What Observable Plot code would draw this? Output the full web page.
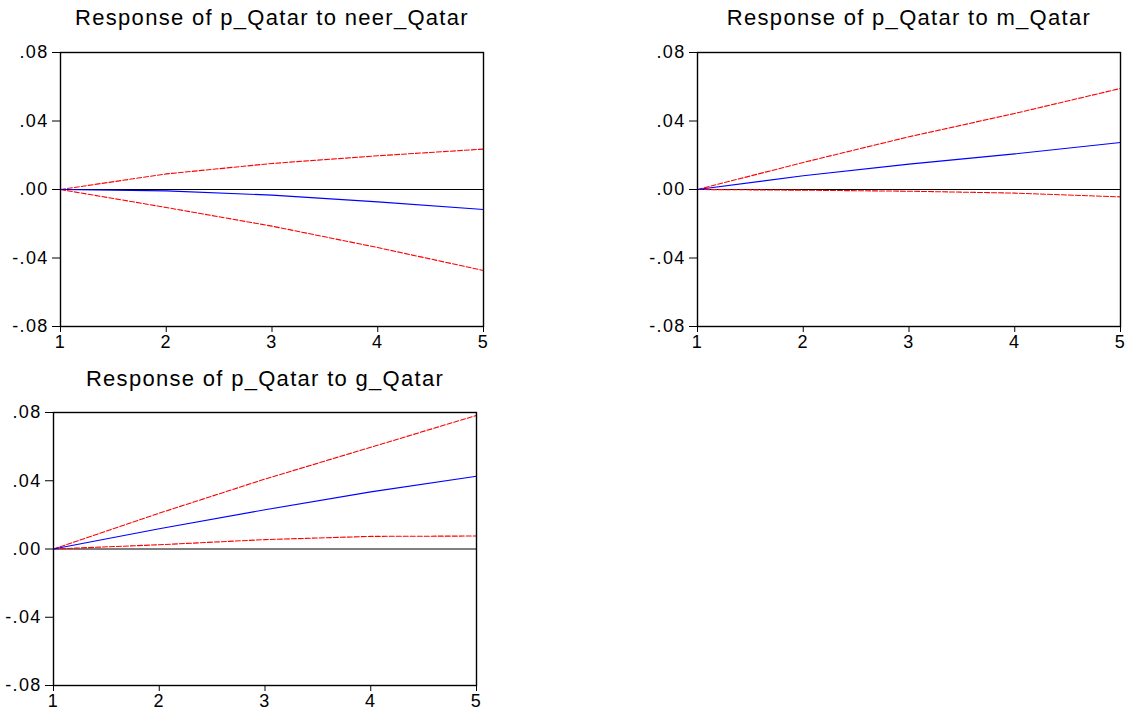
<!DOCTYPE html>
<html><head><meta charset="utf-8">
<script src="https://cdn.jsdelivr.net/npm/d3@7"></script>
<script src="https://cdn.jsdelivr.net/npm/@observablehq/plot@0.6"></script>
<style>
body{margin:0;background:#fff;}
#root{position:relative;width:1134px;height:712px;overflow:hidden;font-family:"Liberation Sans",Arial,sans-serif;}
.panel{position:absolute;}
.panel svg text{letter-spacing:1.3px;}
.title{position:absolute;font-size:22px;letter-spacing:1.3px;white-space:nowrap;transform:translate(-50%,-50%);color:#000;line-height:1;}
</style></head><body><div id="root"></div>
<script>
// Horizons (periods)
const horizons = [1, 2, 3, 4, 5];
const xTickLabels = ["1", "2", "3", "4", "5"];
const yTicks = [0.08, 0.04, 0, -0.04, -0.08];
const yTickLabels = [".08", ".04", ".00", "-.04", "-.08"];

const titles = [
  "Response of p_Qatar to neer_Qatar",
  "Response of p_Qatar to m_Qatar",
  "Response of p_Qatar to g_Qatar"
];

// Response of p_Qatar to neer_Qatar
const neerResp  = [0, -0.0008, -0.0033, -0.0072, -0.0117];
const neerUpper = [0, 0.0091, 0.0152, 0.0197, 0.0236];
const neerLower = [0, -0.0105, -0.0214, -0.0339, -0.0473];

// Response of p_Qatar to m_Qatar
const mResp  = [0, 0.0080, 0.0148, 0.0208, 0.0274];
const mUpper = [0, 0.0158, 0.0308, 0.0444, 0.0590];
const mLower = [0, -0.0004, -0.0010, -0.0021, -0.0043];

// Response of p_Qatar to g_Qatar
const gResp  = [0, 0.0119, 0.0230, 0.0335, 0.0426];
const gUpper = [0, 0.0210, 0.0410, 0.0596, 0.0783];
const gLower = [0, 0.0025, 0.0055, 0.0074, 0.0076];

const series = [
  {resp: neerResp, upper: neerUpper, lower: neerLower},
  {resp: mResp, upper: mUpper, lower: mLower},
  {resp: gResp, upper: gUpper, lower: gLower}
];

// layout of the three panels
const layout = [
  {left: 0,   top: 30,  ml: 60, mt: 22, frameH: 274, mb: 30, titleX: 272, titleY: 18},
  {left: 637, top: 30,  ml: 60, mt: 22, frameH: 274, mb: 30, titleX: 909, titleY: 18},
  {left: 0,   top: 390, ml: 53, mt: 22, frameH: 273, mb: 27, titleX: 265, titleY: 379}
];

const root = document.getElementById("root");
const fmtX = (d) => xTickLabels[horizons.indexOf(d)];
const fmtY = (d) => yTickLabels[yTicks.indexOf(d)];

series.forEach((s, i) => {
  const L = layout[i];
  const toRows = arr => horizons.map((h, k) => ({h, v: arr[k]}));
  const chart = Plot.plot({
    width: L.ml + 423 + 14,
    height: L.mt + L.frameH + L.mb,
    marginLeft: L.ml,
    marginTop: L.mt,
    marginRight: 14,
    marginBottom: L.mb,
    style: {fontFamily: '"Liberation Sans", Arial, sans-serif', fontSize: "18px", color: "#000", background: "#fff", overflow: "visible"},
    x: {domain: [1, 5], ticks: horizons, tickFormat: fmtX, label: null},
    y: {domain: [-0.08, 0.08], ticks: yTicks, tickFormat: fmtY, label: null},
    marks: [
      Plot.axisX({ticks: horizons, tickFormat: fmtX, tickSize: 6, tickPadding: 3, label: null, stroke: "#000", fontSize: 18}),
      Plot.axisY({ticks: yTicks, tickFormat: fmtY, tickSize: 8, tickPadding: 4, label: null, stroke: "#000", fontSize: 18}),
      Plot.ruleY([0], {stroke: "#000", strokeWidth: 1}),
      Plot.line(toRows(s.upper), {x: "h", y: "v", stroke: "#ff0000", strokeWidth: 1.1, strokeDasharray: "5,2"}),
      Plot.line(toRows(s.lower), {x: "h", y: "v", stroke: "#ff0000", strokeWidth: 1.1, strokeDasharray: "5,2"}),
      Plot.line(toRows(s.resp), {x: "h", y: "v", stroke: "#0000ff", strokeWidth: 1.1}),
      Plot.frame({stroke: "#000", strokeWidth: 1.4})
    ]
  });
  const wrap = document.createElement("div");
  wrap.className = "panel";
  wrap.style.left = L.left + "px";
  wrap.style.top = L.top + "px";
  wrap.appendChild(chart);
  root.appendChild(wrap);

  const t = document.createElement("div");
  t.className = "title";
  t.textContent = titles[i];
  t.style.left = L.titleX + "px";
  t.style.top = L.titleY + "px";
  root.appendChild(t);
});
</script>
</body></html>
